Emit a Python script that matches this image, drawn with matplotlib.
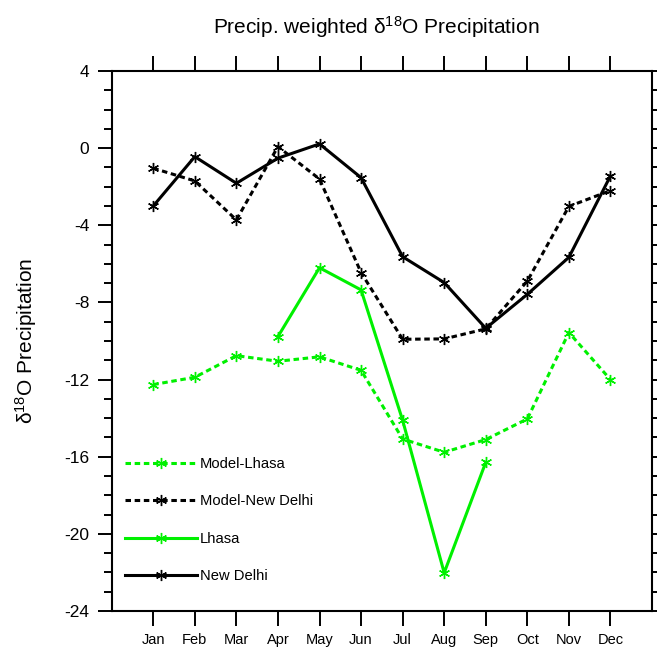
import numpy as np
import matplotlib
matplotlib.use("Agg")
import matplotlib.pyplot as plt
from matplotlib.ticker import MultipleLocator

plt.rcParams['font.family'] = ['Liberation Sans', 'DejaVu Sans']
plt.rcParams['mathtext.fontset'] = 'custom'
plt.rcParams['mathtext.rm'] = 'Liberation Sans'
plt.rcParams['mathtext.it'] = 'Liberation Sans:italic'
plt.rcParams['mathtext.bf'] = 'Liberation Sans:bold'
plt.rcParams['axes.unicode_minus'] = False

months = ['Jan', 'Feb', 'Mar', 'Apr', 'May', 'Jun',
          'Jul', 'Aug', 'Sep', 'Oct', 'Nov', 'Dec']
month_idx = np.arange(1, 13)

new_delhi = [-3.0, -0.44, -1.82, -0.52, 0.22, -1.53,
             -5.63, -6.97, -9.34, -7.58, -5.66, -1.44]
model_new_delhi = [-1.04, -1.70, -3.72, 0.08, -1.60, -6.45,
                   -9.91, -9.89, -9.37, -6.89, -3.02, -2.20]
lhasa = [np.nan, np.nan, np.nan, -9.77, -6.20, -7.35,
         -14.11, -22.02, -16.29, np.nan, np.nan, np.nan]
model_lhasa = [-12.26, -11.88, -10.76, -11.05, -10.82, -11.52,
               -15.08, -15.77, -15.11, -14.04, -9.56, -12.0]

green = '#00f000'
black = '#000000'
asterisk = (6, 2, 0)
dash = (0, (1.8, 1.2))

fig = plt.figure(figsize=(6.57, 6.48), dpi=100)
ax = fig.add_axes([0.170, 0.0571, 0.8224, 0.8333])

common = dict(marker=asterisk, markersize=8, markeredgewidth=1.0, lw=2.2)
l_ml, = ax.plot(month_idx, model_lhasa, color=green, ls=dash, label='Model-Lhasa', **common)
l_mnd, = ax.plot(month_idx, model_new_delhi, color=black, ls=dash, label='Model-New Delhi', **common)
l_l, = ax.plot(month_idx, lhasa, color=green, ls='-', label='Lhasa', **common)
l_nd, = ax.plot(month_idx, new_delhi, color=black, ls='-', label='New Delhi', **common)

ax.set_xlim(0, 13)
ax.set_ylim(-24, 4)
ax.set_xticks(month_idx)
ax.set_xticklabels(months, fontsize=10.5)
ax.yaxis.set_major_locator(MultipleLocator(4))
ax.yaxis.set_minor_locator(MultipleLocator(1))

ax.tick_params(axis='x', which='major', direction='out', length=11, width=1.4,
               top=True, bottom=True, labeltop=False, pad=4.5)
ax.tick_params(axis='y', which='major', direction='out', length=10, width=1.4,
               left=True, right=True, labelright=False, pad=6, labelsize=12.5)
ax.tick_params(axis='y', which='minor', direction='out', length=5.5, width=1.4,
               left=True, right=True)
for s in ax.spines.values():
    s.set_linewidth(1.5)

ax.set_ylabel('δ$^{18}$O Precipitation', fontsize=15, labelpad=18)
fig.text(376 / 657, 1 - 27 / 648, 'Precip. weighted δ$^{18}$O Precipitation',
         ha='center', va='center', fontsize=15)

ax.legend(handles=[l_ml, l_mnd, l_l, l_nd], loc='upper left',
          bbox_to_anchor=(0.0246, 0.2857), frameon=False, handlelength=4.9,
          handletextpad=0.2, labelspacing=1.6, borderpad=0, borderaxespad=0,
          fontsize=10.6, numpoints=1)

fig.savefig('out.png', dpi=100)
